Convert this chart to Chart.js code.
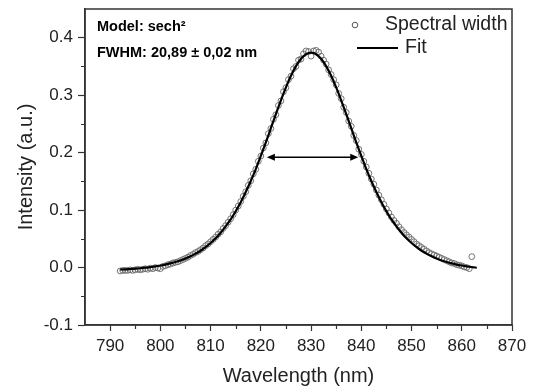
<!DOCTYPE html>
<html>
<head>
<meta charset="utf-8">
<script src="https://cdn.jsdelivr.net/npm/chart.js@4.4.0/dist/chart.umd.min.js"></script>
<style>
  html, body { margin: 0; padding: 0; background: #fff; }
  #wrap { width: 535px; height: 390px; }
</style>
</head>
<body>
<div id="wrap"><canvas id="spectrum" width="535" height="390"></canvas></div>
<script>
// measured spectrum (open circles)
var wavelengths = [
  792.0, 792.5, 793.0, 793.5, 794.0, 794.5, 795.0, 795.5, 796.0, 796.5,
  797.0, 797.5, 798.0, 798.5, 799.0, 799.5, 800.0, 800.5, 801.0, 801.5,
  802.0, 802.5, 803.0, 803.5, 804.0, 804.5, 805.0, 805.5, 806.0, 806.5,
  807.0, 807.5, 808.0, 808.5, 809.0, 809.5, 810.0, 810.5, 811.0, 811.5,
  812.0, 812.5, 813.0, 813.5, 814.0, 814.5, 815.0, 815.5, 816.0, 816.5,
  817.0, 817.5, 818.0, 818.5, 819.0, 819.5, 820.0, 820.5, 821.0, 821.5,
  822.0, 822.5, 823.0, 823.5, 824.0, 824.5, 825.0, 825.5, 826.0, 826.5,
  827.0, 827.5, 828.0, 828.5, 829.0, 829.5, 830.0, 830.5, 831.0, 831.5,
  832.0, 832.5, 833.0, 833.5, 834.0, 834.5, 835.0, 835.5, 836.0, 836.5,
  837.0, 837.5, 838.0, 838.5, 839.0, 839.5, 840.0, 840.5, 841.0, 841.5,
  842.0, 842.5, 843.0, 843.5, 844.0, 844.5, 845.0, 845.5, 846.0, 846.5,
  847.0, 847.5, 848.0, 848.5, 849.0, 849.5, 850.0, 850.5, 851.0, 851.5,
  852.0, 852.5, 853.0, 853.5, 854.0, 854.5, 855.0, 855.5, 856.0, 856.5,
  857.0, 857.5, 858.0, 858.5, 859.0, 859.5, 860.0, 860.5, 861.0, 861.5,
  862.0
];
var intensity = [
  -0.006, -0.005, -0.005, -0.005, -0.004, -0.005, -0.004, -0.003, -0.004, -0.003,
  -0.002, -0.003, -0.001, -0.002, 0.000, -0.001, -0.002, 0.002, 0.003, 0.005,
  0.006, 0.008, 0.009, 0.010, 0.012, 0.014, 0.016, 0.018, 0.021, 0.023,
  0.026, 0.028, 0.031, 0.034, 0.038, 0.041, 0.045, 0.049, 0.053, 0.058,
  0.062, 0.068, 0.073, 0.079, 0.085, 0.092, 0.100, 0.107, 0.115, 0.124,
  0.132, 0.143, 0.151, 0.163, 0.171, 0.185, 0.194, 0.208, 0.217, 0.233,
  0.242, 0.258, 0.266, 0.282, 0.290, 0.306, 0.313, 0.327, 0.333, 0.346,
  0.350, 0.361, 0.363, 0.372, 0.377, 0.376, 0.368, 0.377, 0.378, 0.375,
  0.368, 0.361, 0.354, 0.344, 0.336, 0.327, 0.318, 0.303, 0.294, 0.279,
  0.270, 0.255, 0.246, 0.230, 0.221, 0.206, 0.197, 0.185, 0.175, 0.164,
  0.154, 0.145, 0.135, 0.126, 0.118, 0.110, 0.102, 0.095, 0.088, 0.082,
  0.077, 0.071, 0.066, 0.061, 0.057, 0.053, 0.049, 0.045, 0.041, 0.038,
  0.035, 0.032, 0.029, 0.026, 0.024, 0.022, 0.020, 0.018, 0.016, 0.014,
  0.012, 0.010, 0.008, 0.007, 0.005, 0.004, 0.003, 0.001, 0.000, -0.002,
  0.019
];

// sech^2 fit (solid line)
var fitWavelengths = [
  792, 793, 794, 795, 796, 797, 798, 799, 800, 801, 802, 803, 804, 805, 806, 807, 808, 809,
  810, 811, 812, 813, 814, 815, 816, 817, 818, 819, 820, 821, 822, 823, 824, 825, 826, 827,
  828, 829, 830, 831, 832, 833, 834, 835, 836, 837, 838, 839, 840, 841, 842, 843, 844, 845,
  846, 847, 848, 849, 850, 851, 852, 853, 854, 855, 856, 857, 858, 859, 860, 861, 862, 863
];
var fitIntensity = [
  -0.0035, -0.0031, -0.0025, -0.0019, -0.0012, -0.0003, 0.0008, 0.0020, 0.0035, 0.0052,
  0.0072, 0.0096, 0.0124, 0.0157, 0.0196, 0.0242, 0.0293, 0.0355, 0.0427, 0.0509,
  0.0607, 0.0718, 0.0837, 0.0980, 0.1136, 0.1314, 0.1506, 0.1713, 0.1943, 0.2177,
  0.2425, 0.2669, 0.2910, 0.3136, 0.3337, 0.3506, 0.3634, 0.3713, 0.3740, 0.3713,
  0.3634, 0.3506, 0.3337, 0.3136, 0.2910, 0.2669, 0.2425, 0.2177, 0.1943, 0.1713,
  0.1506, 0.1314, 0.1136, 0.0980, 0.0837, 0.0718, 0.0607, 0.0509, 0.0427, 0.0355,
  0.0293, 0.0242, 0.0196, 0.0157, 0.0124, 0.0096, 0.0072, 0.0052, 0.0035, 0.0020,
  0.0008, -0.0003
];

var xTicks = [790, 800, 810, 820, 830, 840, 850, 860, 870];
var xMinorTicks = [795, 805, 815, 825, 835, 845, 855, 865];
var yTicks = [-0.1, 0.0, 0.1, 0.2, 0.3, 0.4];
var yMinorTicks = [-0.05, 0.05, 0.15, 0.25, 0.35];

// FWHM arrow (nm, intensity)
var fwhmFrom = 821.2;
var fwhmTo = 839.4;
var fwhmLevel = 0.192;

var seriesNames = ["Spectral width", "Fit"];
var noteLines = ["Model: sech\u00b2", "FWHM: 20,89 \u00b1 0,02 nm"];

var FONT = "'Liberation Sans', Arial, sans-serif";
var INK = "#222";

var framePlugin = {
    id: 'frame',
    afterDraw: function(chart) {
        var ctx = chart.ctx;
        var a = chart.chartArea;
        var xs = chart.scales.x;
        var ys = chart.scales.y;
        ctx.save();

        // minor ticks
        ctx.strokeStyle = "#333";
        ctx.lineWidth = 1.2;
        ctx.beginPath();
        xMinorTicks.forEach(function(v) {
            var px = Math.round(xs.getPixelForValue(v)) + 0.5;
            ctx.moveTo(px, a.bottom);
            ctx.lineTo(px, a.bottom + 4);
        });
        yMinorTicks.forEach(function(v) {
            var py = Math.round(ys.getPixelForValue(v)) + 0.5;
            ctx.moveTo(a.left, py);
            ctx.lineTo(a.left - 4, py);
        });
        ctx.stroke();

        // box
        ctx.lineWidth = 1.5;
        ctx.strokeRect(a.left, a.top, a.right - a.left, a.bottom - a.top);

        // FWHM arrow
        var x1 = xs.getPixelForValue(fwhmFrom);
        var x2 = xs.getPixelForValue(fwhmTo);
        var yy = ys.getPixelForValue(fwhmLevel);
        ctx.strokeStyle = "#000";
        ctx.fillStyle = "#000";
        ctx.lineWidth = 1.6;
        ctx.beginPath();
        ctx.moveTo(x1 + 4, yy);
        ctx.lineTo(x2 - 4, yy);
        ctx.stroke();
        ctx.beginPath();
        ctx.moveTo(x1, yy);
        ctx.lineTo(x1 + 8, yy - 3.5);
        ctx.lineTo(x1 + 8, yy + 3.5);
        ctx.closePath();
        ctx.fill();
        ctx.beginPath();
        ctx.moveTo(x2, yy);
        ctx.lineTo(x2 - 8, yy - 3.5);
        ctx.lineTo(x2 - 8, yy + 3.5);
        ctx.closePath();
        ctx.fill();

        // notes
        ctx.fillStyle = "#000";
        ctx.textBaseline = "middle";
        ctx.textAlign = "left";
        ctx.font = "bold 14.5px " + FONT;
        ctx.fillText(noteLines[0], a.left + 12, a.top + 18);
        ctx.fillText(noteLines[1], a.left + 12, a.top + 43.5);

        // legend
        ctx.font = "19.5px " + FONT;
        ctx.fillStyle = INK;
        ctx.strokeStyle = "#555";
        ctx.lineWidth = 1;
        ctx.beginPath();
        ctx.arc(355, 25, 2.8, 0, Math.PI * 2);
        ctx.stroke();
        ctx.fillText(seriesNames[0], 385, 25);
        ctx.strokeStyle = "#000";
        ctx.lineWidth = 2;
        ctx.beginPath();
        ctx.moveTo(357, 48);
        ctx.lineTo(398, 48);
        ctx.stroke();
        ctx.fillText(seriesNames[1], 405, 48);

        ctx.restore();
    }
};

var measured = wavelengths.map(function(w, i) { return { x: w, y: intensity[i] }; });
var fitted = fitWavelengths.map(function(w, i) { return { x: w, y: fitIntensity[i] }; });

new Chart(document.getElementById("spectrum"), {
    type: 'scatter',
    data: {
        datasets: [
            {
                label: seriesNames[0],
                data: measured,
                pointStyle: 'circle',
                pointRadius: 2.9,
                pointBorderWidth: 0.9,
                pointBorderColor: "#666",
                pointBackgroundColor: "rgba(255,255,255,0)",
                showLine: false,
                order: 2
            },
            {
                label: seriesNames[1],
                data: fitted,
                showLine: true,
                borderColor: "#000",
                borderWidth: 2.2,
                pointRadius: 0,
                cubicInterpolationMode: 'monotone',
                order: 1
            }
        ]
    },
    plugins: [framePlugin],
    options: {
        responsive: false,
        animation: false,
        events: [],
        layout: { padding: { top: 9, right: 23, left: 0, bottom: 0 } },
        plugins: {
            legend: { display: false },
            tooltip: { enabled: false }
        },
        scales: {
            x: {
                type: 'linear',
                min: 785,
                max: 870,
                afterBuildTicks: function(s) { s.ticks = xTicks.map(function(v) { return { value: v }; }); },
                afterFit: function(s) { s.height = 65; s.paddingLeft = 0; s.paddingRight = 0; },
                grid: { drawOnChartArea: false, tickLength: 6, tickColor: "#333", tickWidth: 1.2 },
                border: { color: "#333", width: 1.5 },
                ticks: {
                    color: INK,
                    font: { family: FONT, size: 17 },
                    padding: 5,
                    maxRotation: 0,
                    callback: function(v) { return String(v); }
                },
                title: {
                    display: true,
                    text: "Wavelength (nm)",
                    color: INK,
                    font: { family: FONT, size: 20 },
                    padding: { top: 4, bottom: 2 }
                }
            },
            y: {
                type: 'linear',
                min: -0.1,
                max: 0.45,
                afterBuildTicks: function(s) { s.ticks = yTicks.map(function(v) { return { value: v }; }); },
                afterFit: function(s) { s.width = 85; s.paddingTop = 0; s.paddingBottom = 0; },
                grid: { drawOnChartArea: false, tickLength: 7, tickColor: "#333", tickWidth: 1.2 },
                border: { color: "#333", width: 1.5 },
                ticks: {
                    color: INK,
                    font: { family: FONT, size: 17 },
                    padding: 5,
                    callback: function(v) { return Number(v).toFixed(1); }
                },
                title: {
                    display: true,
                    text: "Intensity (a.u.)",
                    color: INK,
                    font: { family: FONT, size: 20 },
                    padding: { top: 14, bottom: 4 }
                }
            }
        }
    }
});
</script>
</body>
</html>
